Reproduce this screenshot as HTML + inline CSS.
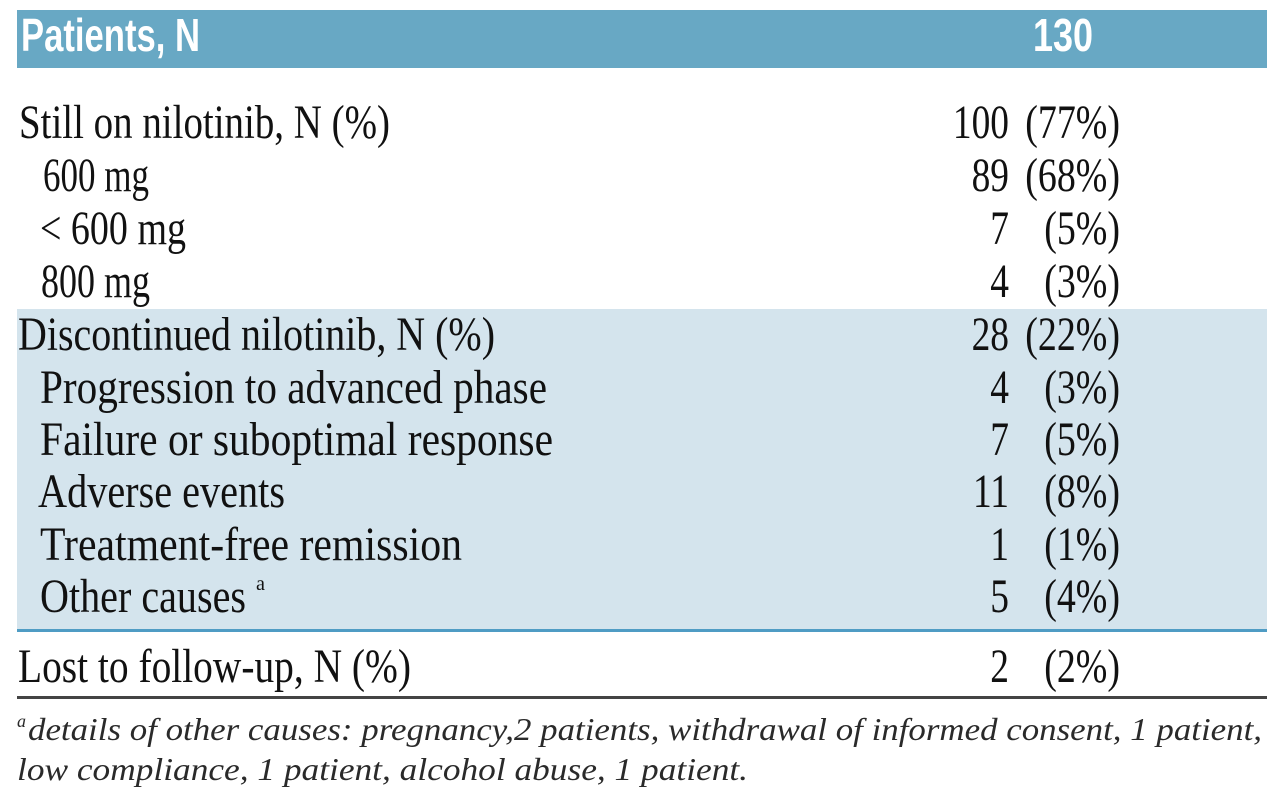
<!DOCTYPE html>
<html>
<head>
<meta charset="utf-8">
<style>
  html, body { margin: 0; padding: 0; background: #ffffff; }
  body { width: 1280px; height: 802px; overflow: hidden; }
  svg { display: block; }
  .hd { font-family: "Liberation Sans", "DejaVu Sans", sans-serif; font-weight: bold; font-size: 46px; fill: #ffffff; }
  .tx { font-family: "Liberation Serif", "DejaVu Serif", serif; font-size: 48px; fill: #111111; }
  .fn { font-family: "Liberation Serif", "DejaVu Serif", serif; font-style: italic; font-size: 32px; fill: #2a2a2a; }
</style>
</head>
<body>
<svg width="1280" height="802" viewBox="0 0 1280 802" xmlns="http://www.w3.org/2000/svg">
  <rect x="0" y="0" width="1280" height="802" fill="#ffffff"/>

  <!-- header bar -->
  <rect x="17" y="10" width="1250" height="58" fill="#68a8c4"/>
  <text class="hd" x="21" y="51" textLength="179" lengthAdjust="spacingAndGlyphs">Patients, N</text>
  <text class="hd" x="1033" y="51" textLength="60" lengthAdjust="spacingAndGlyphs">130</text>

  <!-- light blue block -->
  <rect x="17" y="309" width="1250" height="321" fill="#d4e4ed"/>
  <rect x="17" y="629" width="1250" height="3" fill="#4f9cc4"/>
  <rect x="17" y="696" width="1250" height="3" fill="#444444"/>

  <!-- left labels -->
  <text class="tx" x="19" y="138" textLength="371" lengthAdjust="spacingAndGlyphs">Still on nilotinib, N (%)</text>
  <text class="tx" x="43" y="191" textLength="106" lengthAdjust="spacingAndGlyphs">600 mg</text>
  <text class="tx" x="40" y="244" textLength="146" lengthAdjust="spacingAndGlyphs">&lt; 600 mg</text>
  <text class="tx" x="41" y="297" textLength="109" lengthAdjust="spacingAndGlyphs">800 mg</text>
  <text class="tx" x="18" y="350" textLength="477" lengthAdjust="spacingAndGlyphs">Discontinued nilotinib, N (%)</text>
  <text class="tx" x="40" y="403" textLength="507" lengthAdjust="spacingAndGlyphs">Progression to advanced phase</text>
  <text class="tx" x="40" y="455" textLength="513" lengthAdjust="spacingAndGlyphs">Failure or suboptimal response</text>
  <text class="tx" x="38" y="507" textLength="247" lengthAdjust="spacingAndGlyphs">Adverse events</text>
  <text class="tx" x="40" y="560" textLength="422" lengthAdjust="spacingAndGlyphs">Treatment-free remission</text>
  <text class="tx" x="40" y="612" textLength="206" lengthAdjust="spacingAndGlyphs">Other causes</text>
  <text class="tx" x="256" y="590" style="font-size:20px" textLength="9" lengthAdjust="spacingAndGlyphs">a</text>
  <text class="tx" x="18" y="682" textLength="393" lengthAdjust="spacingAndGlyphs">Lost to follow-up, N (%)</text>

  <!-- counts (right aligned) -->
  <g transform="translate(1009,0) scale(0.78,1)">
    <text class="tx" x="0" y="138" text-anchor="end">100</text>
    <text class="tx" x="0" y="191" text-anchor="end">89</text>
    <text class="tx" x="0" y="244" text-anchor="end">7</text>
    <text class="tx" x="0" y="297" text-anchor="end">4</text>
    <text class="tx" x="0" y="350" text-anchor="end">28</text>
    <text class="tx" x="0" y="403" text-anchor="end">4</text>
    <text class="tx" x="0" y="455" text-anchor="end">7</text>
    <text class="tx" x="0" y="507" text-anchor="end">11</text>
    <text class="tx" x="0" y="560" text-anchor="end">1</text>
    <text class="tx" x="0" y="612" text-anchor="end">5</text>
    <text class="tx" x="0" y="682" text-anchor="end">2</text>
  </g>

  <!-- percentages -->
  <g transform="translate(1120,0) scale(0.79,1)">
    <text class="tx" x="0" y="138" text-anchor="end">(77%)</text>
    <text class="tx" x="0" y="191" text-anchor="end">(68%)</text>
    <text class="tx" x="0" y="244" text-anchor="end">(5%)</text>
    <text class="tx" x="0" y="297" text-anchor="end">(3%)</text>
    <text class="tx" x="0" y="350" text-anchor="end">(22%)</text>
    <text class="tx" x="0" y="403" text-anchor="end">(3%)</text>
    <text class="tx" x="0" y="455" text-anchor="end">(5%)</text>
    <text class="tx" x="0" y="507" text-anchor="end">(8%)</text>
    <text class="tx" x="0" y="560" text-anchor="end">(1%)</text>
    <text class="tx" x="0" y="612" text-anchor="end">(4%)</text>
    <text class="tx" x="0" y="682" text-anchor="end">(2%)</text>
  </g>

  <!-- footnote -->
  <text class="fn" x="17" y="727" style="font-size:18px">a</text>
  <text class="fn" x="28" y="740" textLength="1234" lengthAdjust="spacingAndGlyphs">details of other causes: pregnancy,2 patients, withdrawal of informed consent, 1 patient,</text>
  <text class="fn" x="17" y="780" textLength="731" lengthAdjust="spacingAndGlyphs">low compliance, 1 patient, alcohol abuse, 1 patient.</text>
</svg>
</body>
</html>
